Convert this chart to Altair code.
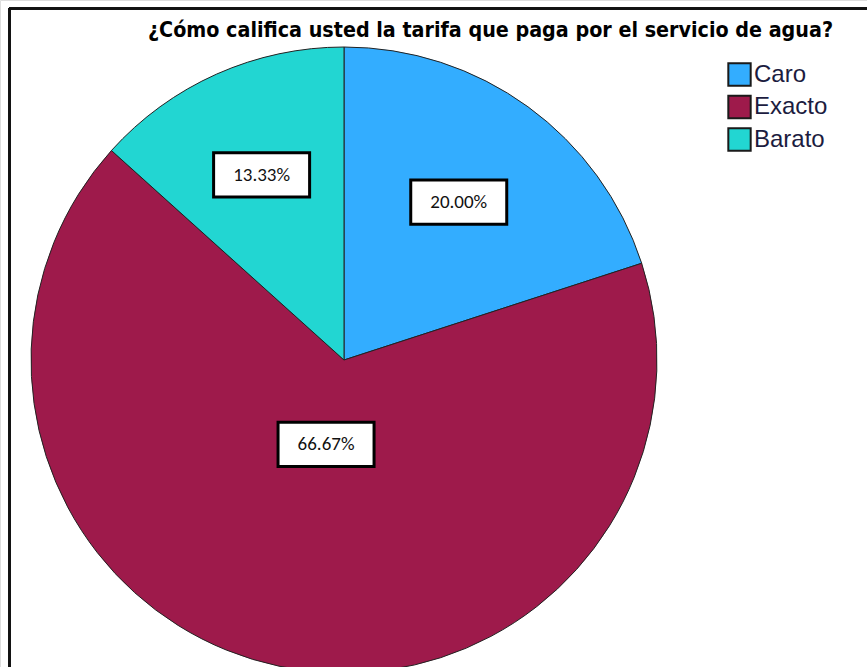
import altair as alt
import pandas as pd

categories = ["Caro", "Exacto", "Barato"]
percentages = [20.00, 66.67, 13.33]
colors = ["#33adff", "#9e1a4b", "#22d6d2"]

R = 313  # pie radius in px (style)

df = pd.DataFrame({"cat": categories, "pct": percentages, "ord": list(range(len(categories)))})

xs = alt.Scale(domain=[-344, 523], nice=False, zero=False)
ys = alt.Scale(domain=[-307, 360], nice=False, zero=False)
col = alt.Color("cat:N", scale=alt.Scale(domain=categories, range=colors),
                legend=alt.Legend(title=None, orient="none", legendX=727, legendY=62,
                                  symbolType="square", symbolSize=500, symbolStrokeColor="#1a1a1a",
                                  symbolStrokeWidth=2, symbolOpacity=1,
                                  labelFont="Liberation Sans, Arial, sans-serif", labelFontSize=24,
                                  labelColor="#1c1c40", rowPadding=1.5, labelOffset=2, padding=0,
                                  fillColor="white"))

base = alt.Chart(df)

pie = base.transform_calculate(cx="0", cy="0").mark_arc(outerRadius=R, stroke="#222222", strokeWidth=1).encode(
    theta=alt.Theta("pct:Q", stack=True),
    order=alt.Order("ord:Q"),
    color=col,
    x=alt.X("cx:Q", scale=xs, axis=None),
    y=alt.Y("cy:Q", scale=ys, axis=None),
)

lab = base.transform_joinaggregate(total="sum(pct)").transform_window(
    cum="sum(pct)", sort=[alt.SortField("ord")], frame=[None, 0]
).transform_calculate(
    half="datum.pct / datum.total * PI",
    mid="(datum.cum - datum.pct / 2) / datum.total * 2 * PI",
).transform_calculate(
    d=f"2 * {R} * sin(datum.half) / (3 * datum.half)",
).transform_calculate(
    lx="datum.d * sin(datum.mid)",
    ly="datum.d * cos(datum.mid)",
    txt="format(datum.pct, '.2f') + '%'",
)

boxes = lab.mark_point(
    shape="M-1,-0.46L1,-0.46L1,0.46L-1,0.46Z", size=9216, filled=True,
    fill="white", stroke="black", strokeWidth=3, opacity=1,
).encode(
    x=alt.X("lx:Q", scale=xs, axis=None),
    y=alt.Y("ly:Q", scale=ys, axis=None),
)

texts = lab.mark_text(font="Carlito, Noto Sans, sans-serif", fontSize=19, color="#111111").encode(
    x=alt.X("lx:Q", scale=xs, axis=None),
    y=alt.Y("ly:Q", scale=ys, axis=None),
    text="txt:N",
)

frame_top = base.mark_rule(color="#111111", strokeWidth=2.5).encode(
    x=alt.value(9), x2=alt.value(867), y=alt.value(8.5)
)
frame_left = base.mark_rule(color="#111111", strokeWidth=2.5).encode(
    x=alt.value(9.5), y=alt.value(8), y2=alt.value(667)
)

chart = alt.layer(pie, boxes, texts, frame_top, frame_left).properties(
    width=867, height=667,
    padding=0,
    autosize=alt.AutoSizeParams(type="none"),
    title=alt.TitleParams(
        text="¿Cómo califica usted la tarifa que paga por el servicio de agua?",
        font="Liberation Sans Narrow, DejaVu Sans Condensed, sans-serif",
        fontSize=21.3, fontWeight="bold", color="black",
        anchor="middle", dx=57, dy=45,
    ),
).configure_view(stroke=None).configure(background="white")

chart.save("out.html", embed_options={"renderer": "svg", "actions": False})
